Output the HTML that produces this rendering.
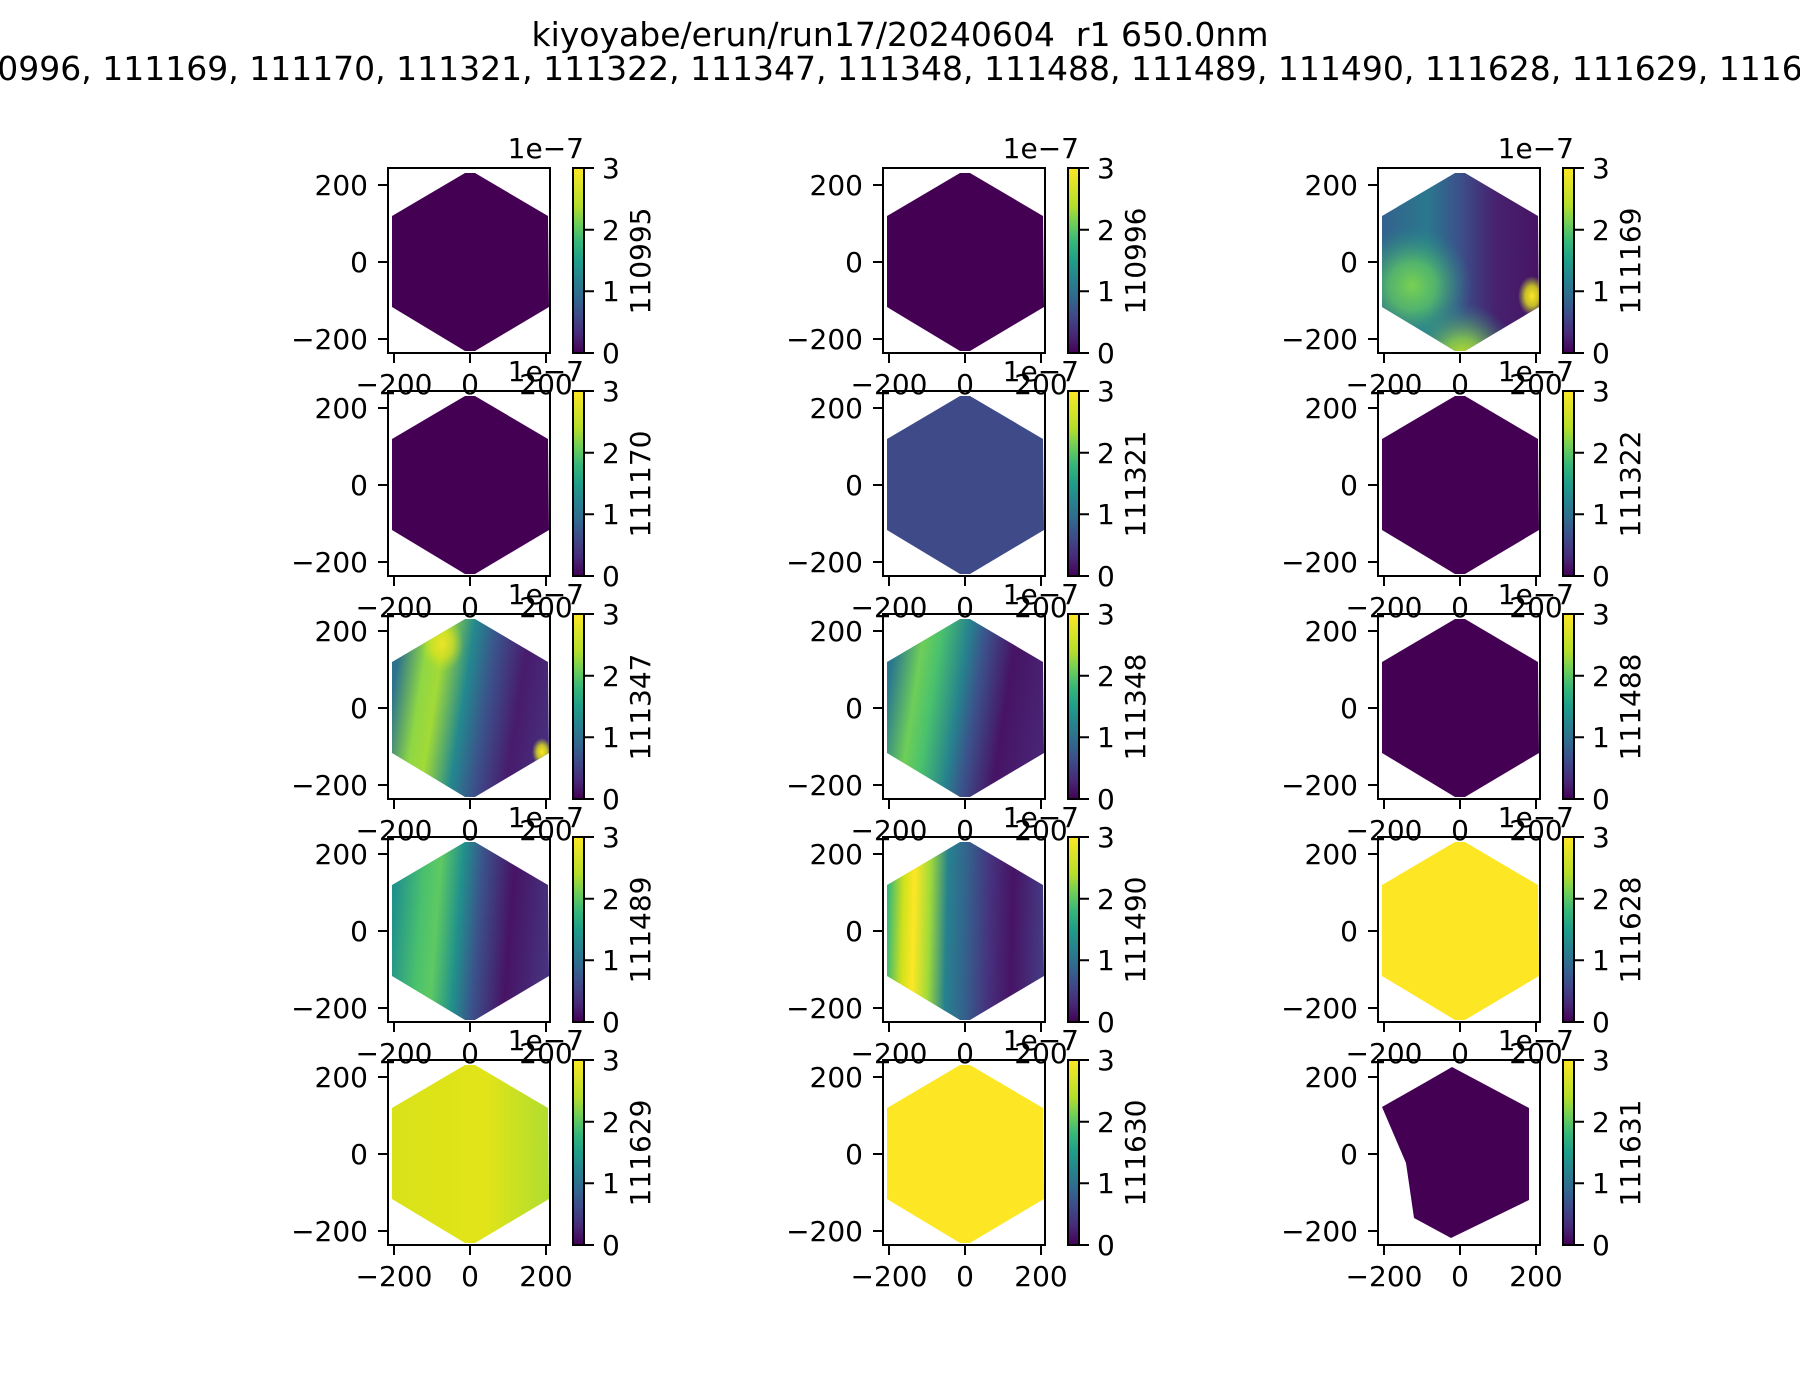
<!DOCTYPE html>
<html><head><meta charset="utf-8"><style>
html,body{margin:0;padding:0;background:#fff;}
svg{display:block;}
text{font-family:"DejaVu Sans","Liberation Sans",sans-serif;font-size:28px;fill:#000;}
.t{font-size:33px;}
.yl{text-anchor:end;}
.xl{text-anchor:middle;}
</style></head><body>
<svg width="1800" height="1400" viewBox="0 0 1800 1400" xmlns="http://www.w3.org/2000/svg">
<defs>
<clipPath id="hex"><polygon points="77,5 87,5 160,48 161,139 87,183 77,183 4,139 4,48"/></clipPath>
<clipPath id="pent"><polygon points="74,7 151,48 151,140 73,178 36,158 28,103 4,47 48,22"/></clipPath>
<linearGradient id="vir" x1="0" y1="1" x2="0" y2="0">
<stop offset="0" stop-color="#440154"/><stop offset="0.1" stop-color="#482878"/><stop offset="0.2" stop-color="#3e4989"/><stop offset="0.3" stop-color="#31688e"/><stop offset="0.4" stop-color="#26828e"/><stop offset="0.5" stop-color="#1f9e89"/><stop offset="0.6" stop-color="#35b779"/><stop offset="0.7" stop-color="#6ece58"/><stop offset="0.8" stop-color="#b5de2b"/><stop offset="1" stop-color="#fde725"/>
</linearGradient>
<linearGradient id="g3" x1="0" y1="0" x2="1" y2="0">
<stop offset="0" stop-color="#35608d"/><stop offset="0.3" stop-color="#2a788e"/><stop offset="0.5" stop-color="#3b528b"/><stop offset="0.72" stop-color="#46226f"/><stop offset="1" stop-color="#471365"/>
</linearGradient>
<radialGradient id="r3g" cx="34" cy="118" r="60" gradientUnits="userSpaceOnUse"><stop offset="0" stop-color="#7ad151"/><stop offset="0.4" stop-color="#5ec962" stop-opacity="0.75"/><stop offset="1" stop-color="#21918c" stop-opacity="0"/></radialGradient>
<radialGradient id="r3b" cx="85" cy="190" r="55" gradientUnits="userSpaceOnUse"><stop offset="0" stop-color="#c8e020"/><stop offset="0.35" stop-color="#8fd744" stop-opacity="0.8"/><stop offset="1" stop-color="#21918c" stop-opacity="0"/></radialGradient>
<radialGradient id="ry" cx="0.5" cy="0.5" r="0.5"><stop offset="0" stop-color="#fde725"/><stop offset="0.5" stop-color="#e5e419" stop-opacity="0.8"/><stop offset="1" stop-color="#b5de2b" stop-opacity="0"/></radialGradient>
<linearGradient id="g7" gradientUnits="userSpaceOnUse" x1="4" y1="82" x2="160" y2="106">
<stop offset="0" stop-color="#2c728e"/><stop offset="0.17" stop-color="#8fd744"/><stop offset="0.27" stop-color="#a2da37"/><stop offset="0.45" stop-color="#23898e"/><stop offset="0.6" stop-color="#3b528b"/><stop offset="0.8" stop-color="#481b6d"/><stop offset="1" stop-color="#472d7b"/>
</linearGradient>
<linearGradient id="g8" gradientUnits="userSpaceOnUse" x1="4" y1="82" x2="160" y2="106">
<stop offset="0" stop-color="#2a788e"/><stop offset="0.17" stop-color="#6ece58"/><stop offset="0.28" stop-color="#4ac16d"/><stop offset="0.45" stop-color="#26828e"/><stop offset="0.56" stop-color="#3b528b"/><stop offset="0.75" stop-color="#471365"/><stop offset="1" stop-color="#482475"/>
</linearGradient>
<linearGradient id="g10" gradientUnits="userSpaceOnUse" x1="4" y1="88" x2="160" y2="100">
<stop offset="0" stop-color="#21918c"/><stop offset="0.18" stop-color="#4ac16d"/><stop offset="0.28" stop-color="#5ec962"/><stop offset="0.42" stop-color="#21918c"/><stop offset="0.55" stop-color="#3b528b"/><stop offset="0.75" stop-color="#471365"/><stop offset="1" stop-color="#46327e"/>
</linearGradient>
<linearGradient id="g11" gradientUnits="userSpaceOnUse" x1="4" y1="92" x2="160" y2="96">
<stop offset="0" stop-color="#35b779"/><stop offset="0.1" stop-color="#d0e11c"/><stop offset="0.17" stop-color="#fde725"/><stop offset="0.27" stop-color="#a0da39"/><stop offset="0.38" stop-color="#26828e"/><stop offset="0.5" stop-color="#33638d"/><stop offset="0.65" stop-color="#46337f"/><stop offset="0.8" stop-color="#471365"/><stop offset="1" stop-color="#443a83"/>
</linearGradient>
<linearGradient id="g13" x1="0" y1="0" x2="1" y2="0">
<stop offset="0" stop-color="#d8e219"/><stop offset="0.6" stop-color="#e2e418"/><stop offset="1" stop-color="#b0dd2f"/>
</linearGradient>
<g id="frame">
<rect x="0" y="0" width="162" height="185" fill="none" stroke="#000" stroke-width="2"/>
<path d="M6,185v10M82,185v10M158,185v10M0,17h-10M0,94h-10M0,171h-10" stroke="#000" stroke-width="2"/>
<rect x="185" y="0" width="11" height="185" fill="url(#vir)" stroke="#000" stroke-width="2"/>
<path d="M196,0h10M196,61.7h10M196,123.3h10M196,185h10" stroke="#000" stroke-width="2"/>
</g>
</defs>

<text class="t" x="900" y="46" text-anchor="middle">kiyoyabe/erun/run17/20240604&#160; r1 650.0nm</text>
<text class="t" x="900" y="80" text-anchor="middle">110995, 110996, 111169, 111170, 111321, 111322, 111347, 111348, 111488, 111489, 111490, 111628, 111629, 111630, 111631</text>

<!-- row 1 -->
<g transform="translate(388,168)">
<rect x="0" y="0" width="162" height="185" fill="#440154" clip-path="url(#hex)"/>
<use href="#frame"/>
<text class="yl" x="-20" y="27">200</text><text class="yl" x="-20" y="104">0</text><text class="yl" x="-20" y="181">−200</text>
<text class="xl" x="6" y="226">−200</text><text class="xl" x="82" y="226">0</text><text class="xl" x="158" y="226">200</text>
<text x="214" y="10">3</text><text x="214" y="72">2</text><text x="214" y="133">1</text><text x="214" y="195">0</text>
<text x="196" y="-10" text-anchor="end">1e−7</text>
<text transform="translate(262,93) rotate(-90)" text-anchor="middle">110995</text>
</g>
<g transform="translate(883,168)">
<rect x="0" y="0" width="162" height="185" fill="#440154" clip-path="url(#hex)"/>
<use href="#frame"/>
<text class="yl" x="-20" y="27">200</text><text class="yl" x="-20" y="104">0</text><text class="yl" x="-20" y="181">−200</text>
<text class="xl" x="6" y="226">−200</text><text class="xl" x="82" y="226">0</text><text class="xl" x="158" y="226">200</text>
<text x="214" y="10">3</text><text x="214" y="72">2</text><text x="214" y="133">1</text><text x="214" y="195">0</text>
<text x="196" y="-10" text-anchor="end">1e−7</text>
<text transform="translate(262,93) rotate(-90)" text-anchor="middle">110996</text>
</g>
<g transform="translate(1378,168)">
<g clip-path="url(#hex)">
<rect x="0" y="0" width="162" height="185" fill="url(#g3)"/>
<rect x="0" y="0" width="162" height="185" fill="url(#r3g)"/>
<rect x="0" y="0" width="162" height="185" fill="url(#r3b)"/>
<ellipse cx="154" cy="128" rx="14" ry="20" fill="url(#ry)"/>
</g>
<use href="#frame"/>
<text class="yl" x="-20" y="27">200</text><text class="yl" x="-20" y="104">0</text><text class="yl" x="-20" y="181">−200</text>
<text class="xl" x="6" y="226">−200</text><text class="xl" x="82" y="226">0</text><text class="xl" x="158" y="226">200</text>
<text x="214" y="10">3</text><text x="214" y="72">2</text><text x="214" y="133">1</text><text x="214" y="195">0</text>
<text x="196" y="-10" text-anchor="end">1e−7</text>
<text transform="translate(262,93) rotate(-90)" text-anchor="middle">111169</text>
</g>

<!-- row 2 -->
<g transform="translate(388,391)">
<rect x="0" y="0" width="162" height="185" fill="#440154" clip-path="url(#hex)"/>
<use href="#frame"/>
<text class="yl" x="-20" y="27">200</text><text class="yl" x="-20" y="104">0</text><text class="yl" x="-20" y="181">−200</text>
<text class="xl" x="6" y="226">−200</text><text class="xl" x="82" y="226">0</text><text class="xl" x="158" y="226">200</text>
<text x="214" y="10">3</text><text x="214" y="72">2</text><text x="214" y="133">1</text><text x="214" y="195">0</text>
<text x="196" y="-10" text-anchor="end">1e−7</text>
<text transform="translate(262,93) rotate(-90)" text-anchor="middle">111170</text>
</g>
<g transform="translate(883,391)">
<rect x="0" y="0" width="162" height="185" fill="#3f4a89" clip-path="url(#hex)"/>
<use href="#frame"/>
<text class="yl" x="-20" y="27">200</text><text class="yl" x="-20" y="104">0</text><text class="yl" x="-20" y="181">−200</text>
<text class="xl" x="6" y="226">−200</text><text class="xl" x="82" y="226">0</text><text class="xl" x="158" y="226">200</text>
<text x="214" y="10">3</text><text x="214" y="72">2</text><text x="214" y="133">1</text><text x="214" y="195">0</text>
<text x="196" y="-10" text-anchor="end">1e−7</text>
<text transform="translate(262,93) rotate(-90)" text-anchor="middle">111321</text>
</g>
<g transform="translate(1378,391)">
<rect x="0" y="0" width="162" height="185" fill="#440154" clip-path="url(#hex)"/>
<use href="#frame"/>
<text class="yl" x="-20" y="27">200</text><text class="yl" x="-20" y="104">0</text><text class="yl" x="-20" y="181">−200</text>
<text class="xl" x="6" y="226">−200</text><text class="xl" x="82" y="226">0</text><text class="xl" x="158" y="226">200</text>
<text x="214" y="10">3</text><text x="214" y="72">2</text><text x="214" y="133">1</text><text x="214" y="195">0</text>
<text x="196" y="-10" text-anchor="end">1e−7</text>
<text transform="translate(262,93) rotate(-90)" text-anchor="middle">111322</text>
</g>

<!-- row 3 -->
<g transform="translate(388,614)">
<g clip-path="url(#hex)">
<rect x="0" y="0" width="162" height="185" fill="url(#g7)"/>
<ellipse cx="54" cy="30" rx="22" ry="28" fill="url(#ry)" opacity="0.8"/>
<ellipse cx="154" cy="138" rx="10" ry="14" fill="url(#ry)"/>
</g>
<use href="#frame"/>
<text class="yl" x="-20" y="27">200</text><text class="yl" x="-20" y="104">0</text><text class="yl" x="-20" y="181">−200</text>
<text class="xl" x="6" y="226">−200</text><text class="xl" x="82" y="226">0</text><text class="xl" x="158" y="226">200</text>
<text x="214" y="10">3</text><text x="214" y="72">2</text><text x="214" y="133">1</text><text x="214" y="195">0</text>
<text x="196" y="-10" text-anchor="end">1e−7</text>
<text transform="translate(262,93) rotate(-90)" text-anchor="middle">111347</text>
</g>
<g transform="translate(883,614)">
<rect x="0" y="0" width="162" height="185" fill="url(#g8)" clip-path="url(#hex)"/>
<use href="#frame"/>
<text class="yl" x="-20" y="27">200</text><text class="yl" x="-20" y="104">0</text><text class="yl" x="-20" y="181">−200</text>
<text class="xl" x="6" y="226">−200</text><text class="xl" x="82" y="226">0</text><text class="xl" x="158" y="226">200</text>
<text x="214" y="10">3</text><text x="214" y="72">2</text><text x="214" y="133">1</text><text x="214" y="195">0</text>
<text x="196" y="-10" text-anchor="end">1e−7</text>
<text transform="translate(262,93) rotate(-90)" text-anchor="middle">111348</text>
</g>
<g transform="translate(1378,614)">
<rect x="0" y="0" width="162" height="185" fill="#440154" clip-path="url(#hex)"/>
<use href="#frame"/>
<text class="yl" x="-20" y="27">200</text><text class="yl" x="-20" y="104">0</text><text class="yl" x="-20" y="181">−200</text>
<text class="xl" x="6" y="226">−200</text><text class="xl" x="82" y="226">0</text><text class="xl" x="158" y="226">200</text>
<text x="214" y="10">3</text><text x="214" y="72">2</text><text x="214" y="133">1</text><text x="214" y="195">0</text>
<text x="196" y="-10" text-anchor="end">1e−7</text>
<text transform="translate(262,93) rotate(-90)" text-anchor="middle">111488</text>
</g>

<!-- row 4 -->
<g transform="translate(388,837)">
<rect x="0" y="0" width="162" height="185" fill="url(#g10)" clip-path="url(#hex)"/>
<use href="#frame"/>
<text class="yl" x="-20" y="27">200</text><text class="yl" x="-20" y="104">0</text><text class="yl" x="-20" y="181">−200</text>
<text class="xl" x="6" y="226">−200</text><text class="xl" x="82" y="226">0</text><text class="xl" x="158" y="226">200</text>
<text x="214" y="10">3</text><text x="214" y="72">2</text><text x="214" y="133">1</text><text x="214" y="195">0</text>
<text x="196" y="-10" text-anchor="end">1e−7</text>
<text transform="translate(262,93) rotate(-90)" text-anchor="middle">111489</text>
</g>
<g transform="translate(883,837)">
<rect x="0" y="0" width="162" height="185" fill="url(#g11)" clip-path="url(#hex)"/>
<use href="#frame"/>
<text class="yl" x="-20" y="27">200</text><text class="yl" x="-20" y="104">0</text><text class="yl" x="-20" y="181">−200</text>
<text class="xl" x="6" y="226">−200</text><text class="xl" x="82" y="226">0</text><text class="xl" x="158" y="226">200</text>
<text x="214" y="10">3</text><text x="214" y="72">2</text><text x="214" y="133">1</text><text x="214" y="195">0</text>
<text x="196" y="-10" text-anchor="end">1e−7</text>
<text transform="translate(262,93) rotate(-90)" text-anchor="middle">111490</text>
</g>
<g transform="translate(1378,837)">
<rect x="0" y="0" width="162" height="185" fill="#fde725" clip-path="url(#hex)"/>
<use href="#frame"/>
<text class="yl" x="-20" y="27">200</text><text class="yl" x="-20" y="104">0</text><text class="yl" x="-20" y="181">−200</text>
<text class="xl" x="6" y="226">−200</text><text class="xl" x="82" y="226">0</text><text class="xl" x="158" y="226">200</text>
<text x="214" y="10">3</text><text x="214" y="72">2</text><text x="214" y="133">1</text><text x="214" y="195">0</text>
<text x="196" y="-10" text-anchor="end">1e−7</text>
<text transform="translate(262,93) rotate(-90)" text-anchor="middle">111628</text>
</g>

<!-- row 5 -->
<g transform="translate(388,1060)">
<rect x="0" y="0" width="162" height="185" fill="url(#g13)" clip-path="url(#hex)"/>
<use href="#frame"/>
<text class="yl" x="-20" y="27">200</text><text class="yl" x="-20" y="104">0</text><text class="yl" x="-20" y="181">−200</text>
<text class="xl" x="6" y="226">−200</text><text class="xl" x="82" y="226">0</text><text class="xl" x="158" y="226">200</text>
<text x="214" y="10">3</text><text x="214" y="72">2</text><text x="214" y="133">1</text><text x="214" y="195">0</text>
<text x="196" y="-10" text-anchor="end">1e−7</text>
<text transform="translate(262,93) rotate(-90)" text-anchor="middle">111629</text>
</g>
<g transform="translate(883,1060)">
<rect x="0" y="0" width="162" height="185" fill="#fde725" clip-path="url(#hex)"/>
<use href="#frame"/>
<text class="yl" x="-20" y="27">200</text><text class="yl" x="-20" y="104">0</text><text class="yl" x="-20" y="181">−200</text>
<text class="xl" x="6" y="226">−200</text><text class="xl" x="82" y="226">0</text><text class="xl" x="158" y="226">200</text>
<text x="214" y="10">3</text><text x="214" y="72">2</text><text x="214" y="133">1</text><text x="214" y="195">0</text>
<text x="196" y="-10" text-anchor="end">1e−7</text>
<text transform="translate(262,93) rotate(-90)" text-anchor="middle">111630</text>
</g>
<g transform="translate(1378,1060)">
<rect x="0" y="0" width="162" height="185" fill="#440154" clip-path="url(#pent)"/>
<use href="#frame"/>
<text class="yl" x="-20" y="27">200</text><text class="yl" x="-20" y="104">0</text><text class="yl" x="-20" y="181">−200</text>
<text class="xl" x="6" y="226">−200</text><text class="xl" x="82" y="226">0</text><text class="xl" x="158" y="226">200</text>
<text x="214" y="10">3</text><text x="214" y="72">2</text><text x="214" y="133">1</text><text x="214" y="195">0</text>
<text x="196" y="-10" text-anchor="end">1e−7</text>
<text transform="translate(262,93) rotate(-90)" text-anchor="middle">111631</text>
</g>
</svg>
</body></html>
